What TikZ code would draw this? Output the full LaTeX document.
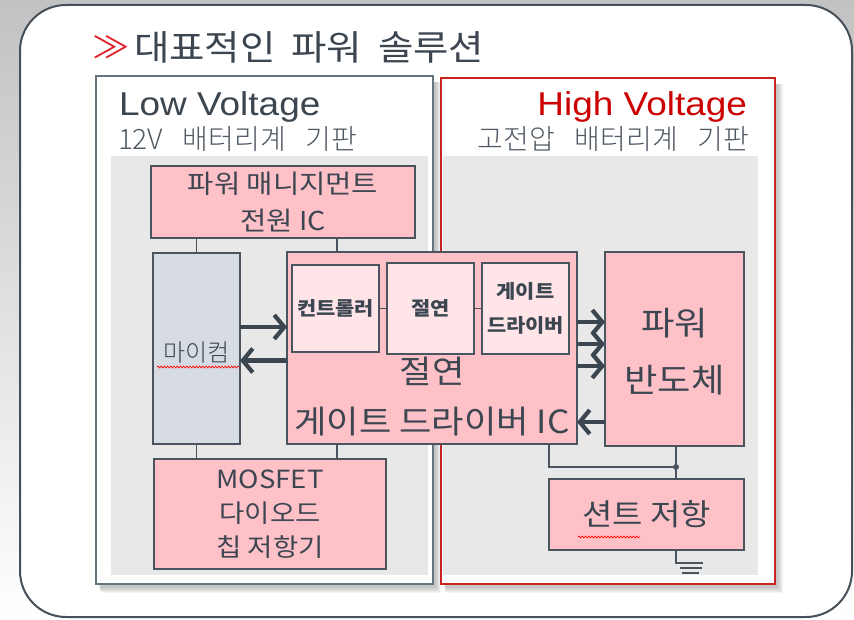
\documentclass[tikz,border=0pt]{standalone}
\usepackage{fontspec}
\setmainfont{Noto Sans CJK KR}[FakeStretch=1.1]
\newfontfamily\titlefont{Noto Sans CJK KR}[FakeStretch=1.1]
\IfFontExistsTF{Noto Sans CJK KR Light}{\newfontfamily\lightfont{Noto Sans CJK KR Light}[FakeStretch=1.0]}{\newfontfamily\lightfont{Noto Sans CJK KR}[FakeStretch=1.0]}
\newfontfamily\chevfont{Noto Sans CJK KR}[FakeStretch=1.25]
\newfontfamily\latfont{Liberation Sans}[FakeStretch=1.12]
\usetikzlibrary{arrows.meta,decorations.pathmorphing,calc}
\definecolor{bggray}{HTML}{C2C2C2}
\definecolor{framec}{HTML}{46505A}
\definecolor{textc}{HTML}{3C4650}
\definecolor{subc}{HTML}{505A64}
\definecolor{lvc}{HTML}{66767F}
\definecolor{hvc}{HTML}{CC2222}
\definecolor{panelc}{HTML}{E8E8E8}
\definecolor{pinkc}{HTML}{FFC1C8}
\definecolor{lpinkc}{HTML}{FFE4E8}
\definecolor{micomc}{HTML}{D6DCE1}
\definecolor{linec}{HTML}{4A545E}
\definecolor{redtext}{HTML}{CC0000}
\definecolor{chevc}{HTML}{E0202A}
\tikzset{
  box/.style={draw=linec, line width=1.3pt, fill=pinkc, inner sep=0pt, outer sep=0pt, text=textc, align=center},
  ibox/.style={box, fill=lpinkc, minimum width=87pt},
  txt/.style={inner sep=0pt, outer sep=0pt, text=textc, align=center},
  conn/.style={draw=linec, line width=1.2pt},
  arr/.style={draw=textc, line width=4.2pt, -{Straight Barb[length=10pt,width=24pt]}},
  wavy/.style={draw=red, line width=0.7pt, decorate, decoration={snake, amplitude=0.9pt, segment length=3.2pt}},
}
\begin{document}
\begin{tikzpicture}[x=1pt,y=-1pt]
\useasboundingbox (0,0) rectangle (854,620);
\shade[top color=bggray, bottom color=white] (0,0) rectangle (854,620);
\draw[draw=framec, line width=2pt, fill=white, rounded corners=46pt] (20,5) rectangle (852,617);

% title
\node[txt, text=chevc, font={\chevfont\fontsize{30}{30}\selectfont}] (chev) at (111,47) {≫};
\node[txt, anchor=west, font={\titlefont\fontsize{35}{35}\selectfont}] (title) at (134,47) {대표적인\hspace{0.45em}파워\hspace{0.45em}솔루션};

% shadows
\foreach \i in {0,...,5}{
  \fill[black, opacity=0.04] (99+\i*0.3, 82) rectangle (436+\i*0.9, 588+\i*0.9);
  \fill[black, opacity=0.04] (444+\i*0.3, 84) rectangle (778+\i*0.9, 588+\i*0.9);
}

% Low / High voltage frames
\node[draw=lvc, line width=1.6pt, fill=white, minimum width=337pt, minimum height=508pt, inner sep=0pt] (lv) at (264.5,330) {};
\node[draw=hvc, line width=2pt, fill=white, minimum width=334pt, minimum height=506pt, inner sep=0pt] (hv) at (608,331) {};
\fill[panelc] (111,156) rectangle (428,575);
\fill[panelc] (443,156) rectangle (758,575);

\node[txt, anchor=base west, font={\latfont\fontsize{33}{33}\selectfont}] (lvt) at (119,116) {Low Voltage};
\node[txt, anchor=base east, text=redtext, font={\latfont\fontsize{33}{33}\selectfont}] (hvt) at (747,116) {High Voltage};
\node[txt, anchor=west, text=subc, font={\lightfont\fontsize{28}{28}\selectfont}] (lvs) at (118,139) {12V\hspace{0.7em}배터리계\hspace{0.7em}기판};
\node[txt, anchor=east, text=subc, font={\lightfont\fontsize{28}{28}\selectfont}] (hvs) at (749,139) {고전압\hspace{0.7em}배터리계\hspace{0.7em}기판};

% boxes
\node[box, minimum width=264pt, minimum height=72pt, font={\fontsize{26}{37}\selectfont}] (pm) at (283,202) {파워 매니지먼트\\전원 IC};
\node[box, fill=micomc, minimum width=87pt, minimum height=191pt] (mc) at (196.5,348.5) {};
\node[txt, font={\lightfont\fontsize{24}{24}\selectfont}] (mct) at (196.5,353) {마이컴};
\node[box, minimum width=290pt, minimum height=192pt] (gic) at (432,348) {};
\node[ibox, minimum height=87pt, font={\bfseries\fontsize{19}{19}\selectfont}] (ctrl) at (335.5,308.5) {컨트롤러};
\node[ibox, minimum height=91pt, font={\bfseries\fontsize{19}{19}\selectfont}] (iso) at (430.5,308.5) {절연};
\node[ibox, minimum height=91pt, font={\bfseries\fontsize{19}{34}\selectfont}] (gd) at (525.5,308.5) {게이트\\드라이버};
\node[txt, font={\fontsize{32}{50}\selectfont}] (gict) at (432,397) {절연\\게이트 드라이버 IC};
\node[box, minimum width=139pt, minimum height=194pt] (ps) at (674.5,349) {};
\node[txt, font={\fontsize{33}{57}\selectfont}] (pst) at (674.5,351.5) {파워\\반도체};
\node[box, minimum width=232pt, minimum height=110pt, font={\fontsize{25}{34}\selectfont}] (mos) at (270,514) {MOSFET\\다이오드\\칩 저항기};
\node[box, minimum width=195pt, minimum height=71pt, font={\fontsize{30}{30}\selectfont}] (sh) at (646.5,514.5) {션트 저항};

% connectors
\draw[conn] (mc.north) -- (mc.north |- pm.south);
\draw[conn] ([xshift=50pt]gic.north west) -- ([xshift=50pt]gic.north west |- pm.south);
\draw[conn] (mc.south) -- (mc.south |- mos.north);
\draw[conn] ([xshift=50pt]gic.south west) -- ([xshift=50pt]gic.south west |- mos.north);
\draw[conn] (ctrl.east) -- (iso.west);
\draw[conn] (iso.east) -- (gd.west);

\draw[arr] ([yshift=21.5pt]mc.east) -- ([yshift=21.5pt]mc.east -| gic.west);
\draw[arr] ([yshift=-12.5pt]gic.west) -- ([yshift=-12.5pt]gic.west -| mc.east);
\foreach \s in {26,4,-18}{
  \draw[arr] ([yshift=\s pt]gic.east) -- ([yshift=\s pt]gic.east -| ps.west);
}
\draw[arr] ([yshift=-73pt]ps.west) -- ([yshift=-73pt]ps.west -| gic.east);

\coordinate (jn) at (676,467);
\draw[conn] (gic.south -| sh.west) |- (jn);
\draw[conn] (ps.south -| jn) -- (sh.north -| jn);
\fill[linec] (jn) circle (3pt);
\coordinate (gnd) at (676,563);
\draw[conn] (sh.south -| gnd) -- (gnd) -- ++(27,0);
\draw[conn] ([shift={(4,5)}]gnd) -- ++(22,0);
\draw[conn] ([shift={(6,10)}]gnd) -- ++(17,0);

% spell-check underlines
\draw[wavy] (157,367) -- (239,367);
\draw[wavy] (578,537) -- (640,537);
\end{tikzpicture}
\end{document}
